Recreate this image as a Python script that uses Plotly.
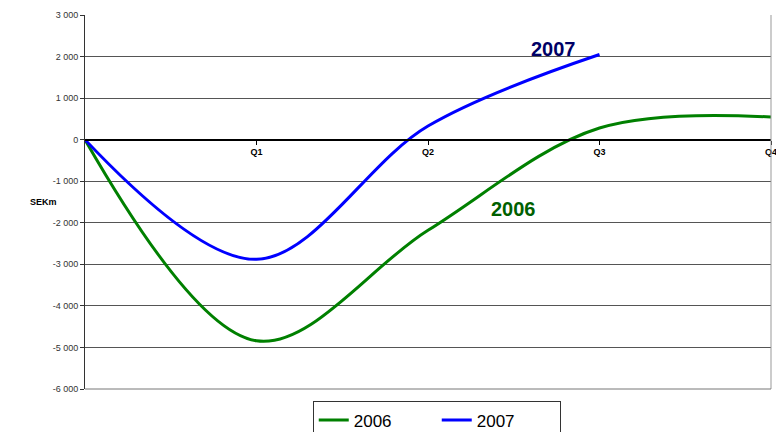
import plotly.graph_objects as go

# Data
quarters = [0, 1, 2, 3, 4]
x_ticktext = ["Q1", "Q2", "Q3", "Q4"]
values_2006 = [0, -4840, -2180, 280, 545]
values_2007 = [0, -2880, 330, 2050]
y_tickvals = [3000, 2000, 1000, 0, -1000, -2000, -3000, -4000, -5000, -6000]
y_ticktext = ["3 000", "2 000", "1 000", "0", "-1 000", "-2 000", "-3 000", "-4 000", "-5 000", "-6 000"]

FONT = "Arial, Liberation Sans, sans-serif"

fig = go.Figure()
fig.add_trace(go.Scatter(
    x=quarters, y=values_2006, name="2006", mode="lines",
    line=dict(color="#008000", width=3, shape="spline", smoothing=1.0),
))
fig.add_trace(go.Scatter(
    x=quarters[:len(values_2007)], y=values_2007, name="2007", mode="lines",
    line=dict(color="#0000FF", width=3, shape="spline", smoothing=1.0),
))

fig.update_layout(
    width=776, height=432,
    margin=dict(l=85, r=5, t=15, b=43, autoexpand=False),
    paper_bgcolor="white", plot_bgcolor="white",
    font=dict(family=FONT, color="#000"),
    showlegend=True,
    legend=dict(
        orientation="h", x=0.332, xanchor="left", y=-0.033, yanchor="top",
        font=dict(size=17, family=FONT, color="#000"),
        bordercolor="#333", borderwidth=1, bgcolor="white",
        entrywidth=78, entrywidthmode="pixels",
    ),
    xaxis=dict(
        range=[0, 4], tickvals=[1, 2, 3, 4], ticktext=x_ticktext,
        anchor="free", position=2/3,
        showgrid=False, zeroline=False,
        showline=True, linecolor="#000", linewidth=2,
        ticks="outside", ticklen=4, tickwidth=1, tickcolor="#000",
        ticklabeloverflow="allow",
        tickfont=dict(size=9, family=FONT, color="#000", weight="bold"),
    ),
    yaxis=dict(
        range=[-6000, 3000], tickvals=y_tickvals, ticktext=y_ticktext,
        showgrid=True, gridcolor="#555", gridwidth=1,
        zeroline=False,
        showline=True, linecolor="#333", linewidth=1,
        ticks="outside", ticklen=4, tickcolor="#333",
        tickfont=dict(size=9, family=FONT, color="#333"),
    ),
)

# plot-area border: right and bottom edges
fig.add_shape(type="line", xref="paper", yref="paper", x0=1, x1=1, y0=0, y1=1,
              line=dict(color="#999", width=1))
fig.add_shape(type="line", xref="paper", yref="paper", x0=0, x1=1, y0=0, y1=0,
              line=dict(color="#777", width=1))

fig.add_annotation(text="SEKm", xref="paper", yref="y", x=-0.083, y=-1490,
                   showarrow=False, font=dict(size=9, family=FONT, color="#000", weight="bold"))
fig.add_annotation(text="2007", xref="x", yref="y", x=2.73, y=2170,
                   showarrow=False, font=dict(size=20, family=FONT, color="#000066", weight="bold"))
fig.add_annotation(text="2006", xref="x", yref="y", x=2.5, y=-1660,
                   showarrow=False, font=dict(size=20, family=FONT, color="#006000", weight="bold"))

fig.write_html("out.html")
